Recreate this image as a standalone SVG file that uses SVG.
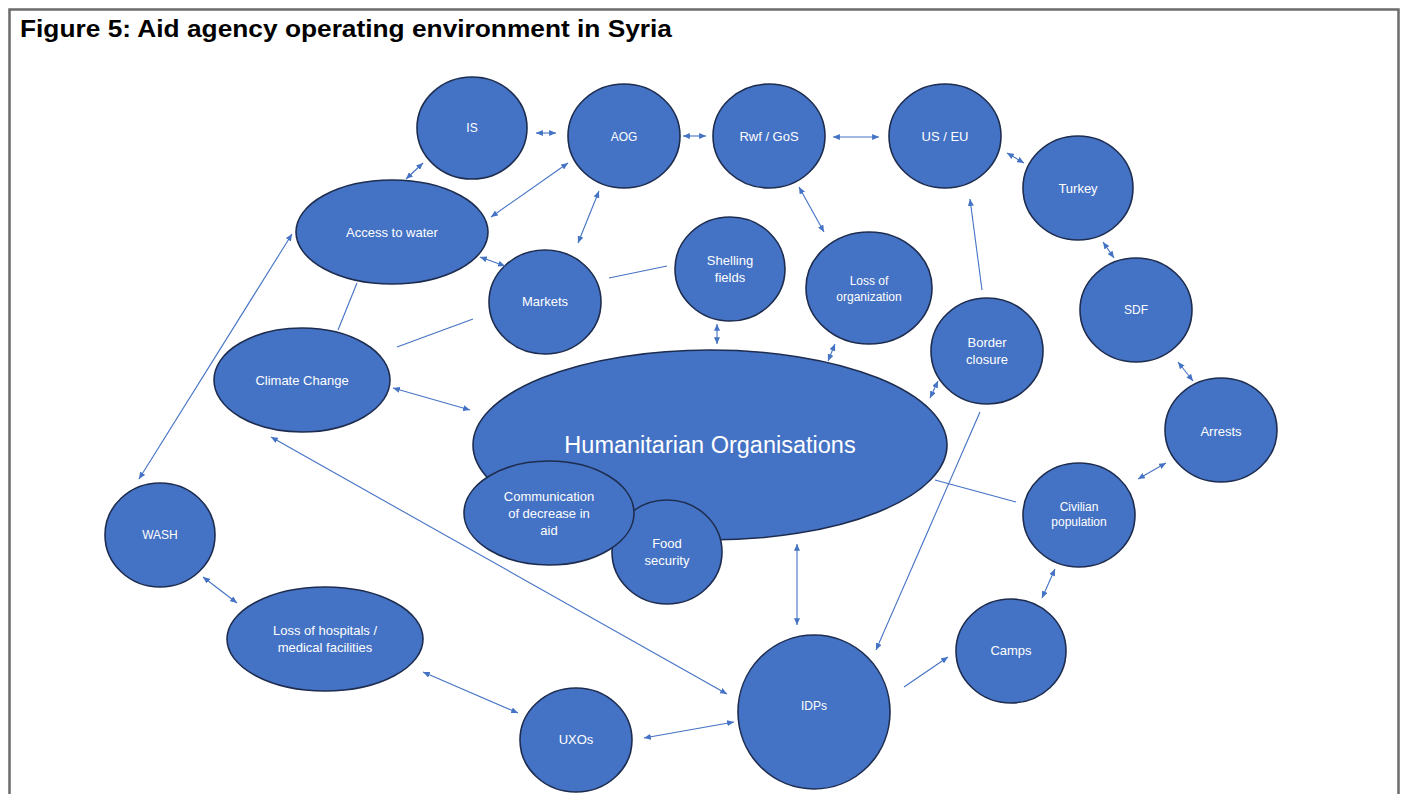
<svg xmlns="http://www.w3.org/2000/svg" width="1408" height="794" viewBox="0 0 1408 794">
<defs>
<marker id="ah" viewBox="0 0 8 7" refX="8" refY="3.5" markerWidth="7" markerHeight="6" markerUnits="userSpaceOnUse" orient="auto-start-reverse">
<path d="M0,0 L8,3.5 L0,7 z" fill="#4472C4"/>
</marker>
</defs>
<style>
.n{fill:#4472C4;stroke:#1E2D4F;stroke-width:1.6}
.t{fill:#ffffff;font-family:"Liberation Sans",Arial,sans-serif;font-size:13px;text-anchor:middle}
.s{font-size:12px}
.c{stroke:#4472C4;stroke-width:1.1;fill:none}
.a{marker-start:url(#ah);marker-end:url(#ah)}
.e{marker-end:url(#ah)}
</style>
<rect x="0" y="0" width="1408" height="794" fill="#ffffff"/>
<rect x="9.5" y="9.5" width="1389" height="800" fill="none" stroke="#6b6b6b" stroke-width="2.5"/>
<text x="20" y="37" font-family="'Liberation Sans',Arial,sans-serif" font-weight="bold" font-size="23" textLength="652" lengthAdjust="spacingAndGlyphs" fill="#000000">Figure 5: Aid agency operating environment in Syria</text>

<g id="n-is"><ellipse class="n" cx="472" cy="128" rx="55" ry="51"/><text class="t s" x="472" y="132">IS</text></g>
<g id="n-aog"><ellipse class="n" cx="624" cy="136" rx="56" ry="52"/><text class="t s" x="624" y="141">AOG</text></g>
<g id="n-rwf"><ellipse class="n" cx="769" cy="136" rx="56" ry="52"/><text class="t" x="769" y="141">Rwf / GoS</text></g>
<g id="n-useu"><ellipse class="n" cx="945" cy="136" rx="56" ry="52"/><text class="t" x="945" y="141">US / EU</text></g>
<g id="n-turkey"><ellipse class="n" cx="1078" cy="188" rx="55" ry="52"/><text class="t" x="1078" y="193">Turkey</text></g>
<g id="n-sdf"><ellipse class="n" cx="1136" cy="310" rx="56" ry="52"/><text class="t s" x="1136" y="314">SDF</text></g>
<g id="n-arrests"><ellipse class="n" cx="1221" cy="430" rx="56" ry="52"/><text class="t" x="1221" y="436">Arrests</text></g>
<g id="n-water"><ellipse class="n" cx="392" cy="232" rx="96" ry="52"/><text class="t" x="392" y="237">Access to water</text></g>
<g id="n-markets"><ellipse class="n" cx="545" cy="302" rx="56" ry="52"/><text class="t" x="545" y="306">Markets</text></g>
<g id="n-shelling"><ellipse class="n" cx="730" cy="269" rx="55" ry="52"/><text class="t" x="730" y="265">Shelling</text><text class="t" x="730" y="282">fields</text></g>
<g id="n-lossorg"><ellipse class="n" cx="869" cy="288" rx="63" ry="56"/><text class="t s" x="869" y="285">Loss of</text><text class="t s" x="869" y="301">organization</text></g>
<g id="n-border"><ellipse class="n" cx="987" cy="351" rx="56" ry="53"/><text class="t" x="987" y="347">Border</text><text class="t" x="987" y="364">closure</text></g>
<g id="n-climate"><ellipse class="n" cx="302" cy="380" rx="88" ry="52"/><text class="t" x="302" y="385">Climate Change</text></g>
<g id="n-hum"><ellipse class="n" cx="710" cy="445" rx="237" ry="95"/><text class="t" style="font-size:23.5px" x="710" y="453">Humanitarian Organisations</text></g>
<g id="n-food"><ellipse class="n" cx="667" cy="552" rx="55" ry="52"/><text class="t" x="667" y="548">Food</text><text class="t" x="667" y="565">security</text></g>
<g id="n-comm"><ellipse class="n" cx="549" cy="513" rx="85" ry="52"/><text class="t" x="549" y="501">Communication</text><text class="t" x="549" y="518">of decrease in</text><text class="t" x="549" y="535">aid</text></g>
<g id="n-wash"><ellipse class="n" cx="160" cy="535" rx="55" ry="52"/><text class="t s" x="160" y="539">WASH</text></g>
<g id="n-hosp"><ellipse class="n" cx="325" cy="639" rx="98" ry="52"/><text class="t" x="325" y="635">Loss of hospitals /</text><text class="t" x="325" y="652">medical facilities</text></g>
<g id="n-uxos"><ellipse class="n" cx="576" cy="740" rx="56" ry="52"/><text class="t" x="576" y="744">UXOs</text></g>
<g id="n-idps"><ellipse class="n" cx="814" cy="712" rx="76" ry="77"/><text class="t s" x="814" y="710">IDPs</text></g>
<g id="n-camps"><ellipse class="n" cx="1011" cy="651" rx="55" ry="52"/><text class="t" x="1011" y="655">Camps</text></g>
<g id="n-civ"><ellipse class="n" cx="1079" cy="515" rx="56" ry="52"/><text class="t s" x="1079" y="511">Civilian</text><text class="t s" x="1079" y="526">population</text></g>

<g id="connectors">
<line class="c a" x1="536" y1="133" x2="556" y2="133"/>
<line class="c a" x1="683" y1="136" x2="706" y2="136"/>
<line class="c a" x1="833" y1="137" x2="879" y2="137"/>
<line class="c a" x1="1007" y1="153" x2="1024" y2="163"/>
<line class="c a" x1="1103" y1="242" x2="1114" y2="258"/>
<line class="c a" x1="1178" y1="362" x2="1193" y2="381"/>
<line class="c a" x1="1138" y1="479" x2="1166" y2="463"/>
<line class="c a" x1="1042" y1="598" x2="1055" y2="569"/>
<line class="c e" x1="904" y1="687" x2="948" y2="657"/>
<line class="c a" x1="797" y1="544" x2="797" y2="625"/>
<line class="c e" x1="980" y1="412" x2="876" y2="650"/>
<line class="c e" x1="982" y1="290" x2="970" y2="199"/>
<line class="c a" x1="930" y1="398" x2="938" y2="381"/>
<line class="c a" x1="828" y1="361" x2="835" y2="344"/>
<line class="c a" x1="717" y1="324" x2="717" y2="344"/>
<line class="c a" x1="799" y1="187" x2="824" y2="232"/>
<line class="c a" x1="599" y1="191" x2="578" y2="243"/>
<line class="c a" x1="568" y1="163" x2="491" y2="217"/>
<line class="c a" x1="423" y1="163" x2="406" y2="179"/>
<line class="c a" x1="480" y1="257" x2="505" y2="266"/>
<line class="c" x1="357" y1="283" x2="338" y2="330"/>
<line class="c" x1="397" y1="347" x2="473" y2="319"/>
<line class="c" x1="609" y1="278" x2="667" y2="266"/>
<line class="c a" x1="393" y1="388" x2="470" y2="410"/>
<line class="c a" x1="292" y1="234" x2="139" y2="479"/>
<line class="c a" x1="271" y1="437" x2="727" y2="694"/>
<line class="c a" x1="203" y1="577" x2="237" y2="603"/>
<line class="c a" x1="423" y1="672" x2="518" y2="713"/>
<line class="c a" x1="644" y1="738" x2="734" y2="722"/>
<line class="c" x1="935" y1="480" x2="1016" y2="502"/>
</g>
</svg>
